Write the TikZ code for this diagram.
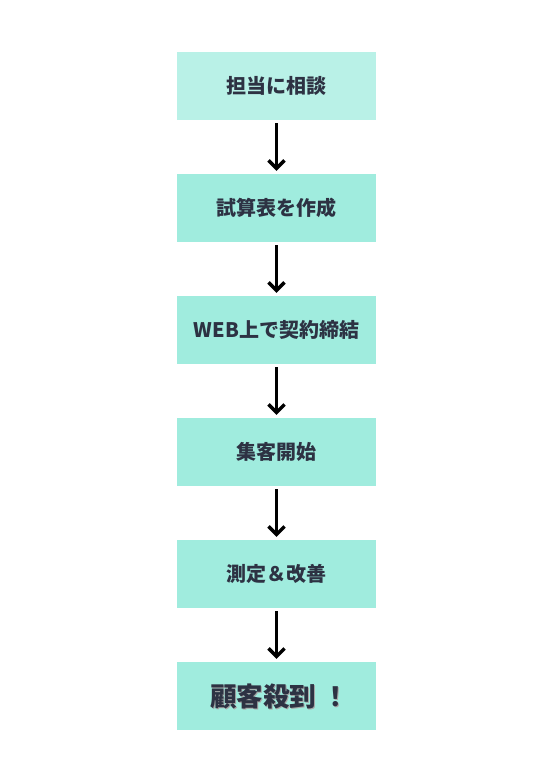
\documentclass[tikz,border=0pt]{standalone}
\usepackage{fontspec}
\newfontfamily\jpfont{Noto Sans CJK JP}
\usetikzlibrary{positioning,arrows.meta}
\definecolor{boxfirst}{HTML}{B9F1E7}
\definecolor{boxmint}{HTML}{A0ECDE}
\definecolor{textnavy}{HTML}{2D3243}

\begin{document}
\begin{tikzpicture}[x=1pt,y=-1pt,node distance=53.6pt,
    stepbox/.style={fill=boxmint,minimum width=199pt,minimum height=68pt,inner sep=0pt,
        text=textnavy,font=\jpfont\bfseries\fontsize{20}{24}\selectfont},
    flow/.style={line width=3.4pt,-{Straight Barb[length=8pt,width=16pt]},shorten <=3pt,shorten >=3pt}]
    \useasboundingbox (0,0) rectangle (556,779);
    \node[stepbox,fill=boxfirst] (soudan) at (276.5,86) {担当に相談};
    \node[stepbox,below=of soudan] (shisan) {試算表を作成};
    \node[stepbox,below=of shisan] (keiyaku) {WEB上で契約締結};
    \node[stepbox,below=of keiyaku] (shukyaku) {集客開始};
    \node[stepbox,below=of shukyaku] (kaizen) {測定＆改善};
    \node[stepbox,below=of kaizen] (kokyaku) {};
    % last step: larger text with a soft shadow
    \node[text=black!35,font=\jpfont\bfseries\fontsize{26.5}{30}\selectfont] at ([xshift=4pt,yshift=-1.2pt]kokyaku.center) {顧客殺到 ！};
    \node[text=textnavy,font=\jpfont\bfseries\fontsize{26.5}{30}\selectfont] (kokyakutext) at ([xshift=3pt]kokyaku.center) {顧客殺到 ！};
    \draw[flow] (soudan) -- (shisan);
    \draw[flow] (shisan) -- (keiyaku);
    \draw[flow] (keiyaku) -- (shukyaku);
    \draw[flow] (shukyaku) -- (kaizen);
    \draw[flow] (kaizen) -- (kokyaku);
\end{tikzpicture}
\end{document}
